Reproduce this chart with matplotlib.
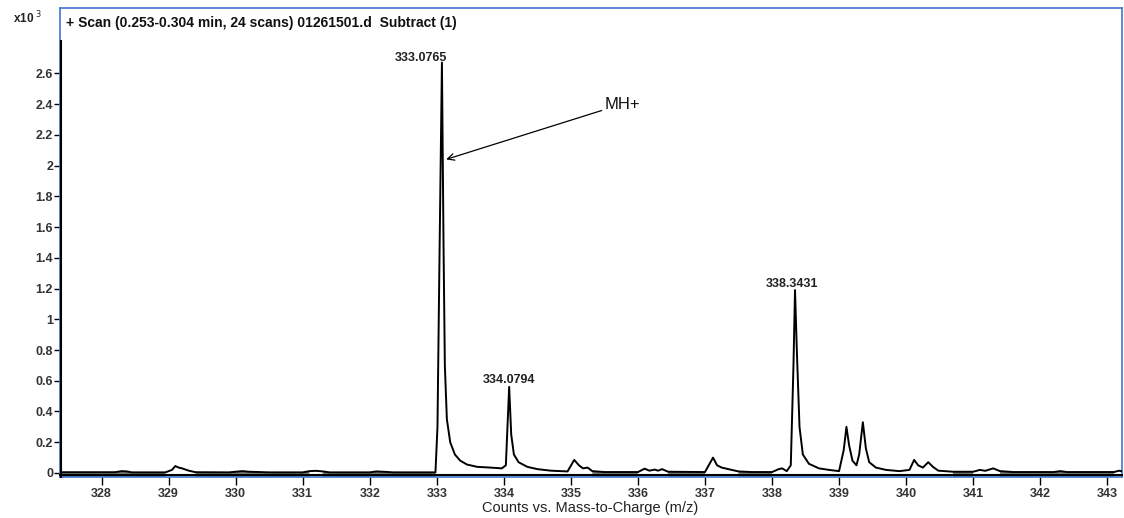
import matplotlib
matplotlib.use("Agg")
import matplotlib.pyplot as plt
import numpy as np

plt.rcParams["font.family"] = ["Liberation Sans", "DejaVu Sans"]

# profile trace (m/z, counts x10^3)
mz = [327.38, 328.20, 328.30, 328.38, 328.45,
      328.95, 329.05, 329.10, 329.15, 329.20, 329.30, 329.40,
      329.90, 330.00, 330.10, 330.20, 330.35, 330.50,
      331.00, 331.10, 331.20, 331.30, 331.40,
      332.00, 332.10, 332.20, 332.35,
      332.98, 333.01, 333.04, 333.0765, 333.10, 333.12, 333.15, 333.20,
      333.27, 333.35, 333.45, 333.60, 333.80, 333.97,
      334.03, 334.0794, 334.11, 334.15, 334.22, 334.35, 334.50, 334.70,
      334.95, 335.05, 335.12, 335.18, 335.25, 335.32, 335.50,
      336.00, 336.10, 336.17, 336.25, 336.30, 336.36, 336.45,
      337.00, 337.12, 337.18, 337.25, 337.35, 337.50, 337.70,
      338.00, 338.10, 338.15, 338.22, 338.28, 338.32, 338.3431, 338.37,
      338.41, 338.46, 338.55, 338.70, 338.85, 339.00,
      339.07, 339.11, 339.15, 339.20, 339.26, 339.30, 339.355, 339.40,
      339.45, 339.55, 339.70, 339.90,
      340.05, 340.12, 340.18, 340.25, 340.33, 340.40, 340.48, 340.70,
      341.00, 341.10, 341.18, 341.30, 341.40, 341.60,
      342.20, 342.30, 342.40, 343.10, 343.18, 343.22]
counts = [0.005, 0.005, 0.012, 0.010, 0.004,
          0.004, 0.020, 0.045, 0.035, 0.030, 0.015, 0.005,
          0.004, 0.008, 0.012, 0.008, 0.006, 0.004,
          0.004, 0.012, 0.014, 0.010, 0.004,
          0.004, 0.010, 0.008, 0.004,
          0.004, 0.300, 1.400, 2.670, 1.500, 0.700, 0.350, 0.200,
          0.120, 0.080, 0.055, 0.040, 0.035, 0.030,
          0.050, 0.560, 0.250, 0.120, 0.070, 0.040, 0.025, 0.015,
          0.010, 0.085, 0.050, 0.030, 0.035, 0.012, 0.006,
          0.006, 0.028, 0.015, 0.022, 0.015, 0.025, 0.008,
          0.006, 0.100, 0.050, 0.035, 0.025, 0.010, 0.006,
          0.006, 0.025, 0.030, 0.012, 0.050, 0.700, 1.190, 0.800,
          0.300, 0.120, 0.060, 0.030, 0.020, 0.012,
          0.150, 0.300, 0.180, 0.080, 0.050, 0.120, 0.330, 0.160,
          0.070, 0.035, 0.020, 0.012,
          0.020, 0.085, 0.050, 0.035, 0.070, 0.040, 0.015, 0.008,
          0.008, 0.020, 0.014, 0.030, 0.012, 0.006,
          0.006, 0.012, 0.006, 0.006, 0.015, 0.010]

peak_labels = ["333.0765", "334.0794", "338.3431"]
label_mz = [332.76, 334.07, 338.30]
label_counts = [2.66, 0.567, 1.19]

x_ticks = list(range(328, 344))
y_ticks = [0, 0.2, 0.4, 0.6, 0.8, 1, 1.2, 1.4, 1.6, 1.8, 2, 2.2, 2.4, 2.6]
y_ticklabels = ["0", "0.2", "0.4", "0.6", "0.8", "1", "1.2", "1.4", "1.6",
                "1.8", "2", "2.2", "2.4", "2.6"]

title = "+ Scan (0.253-0.304 min, 24 scans) 01261501.d  Subtract (1)"
xlabel = "Counts vs. Mass-to-Charge (m/z)"

blue = "#3f78d0"
ylo, yhi = -0.026, 3.025

fig = plt.figure(figsize=(11.24, 5.18), dpi=100)
ax = fig.add_axes([0.0534, 0.0792, 0.9448, 0.9054])

mz = np.array(mz)
counts = np.array(counts)

# grey baseline band where the trace sits on the noise floor
ax.fill_between(mz, ylo, counts, where=counts < 0.013, color="#7a7a7a",
                lw=0, interpolate=True, zorder=1)
ax.plot(mz, counts, color="black", lw=1.4, zorder=3)

ax.set_xlim(327.38, 343.22)
ax.set_ylim(ylo, yhi)

for s in ax.spines.values():
    s.set_color(blue)
    s.set_linewidth(1.2)

# black axis lines inside the blue frame
ax.plot([0.001, 0.001], [0, 0.93], transform=ax.transAxes, color="black",
        lw=1.5, clip_on=False, zorder=4)
ax.plot([0, 1], [0.004, 0.004], transform=ax.transAxes, color="black",
        lw=1.5, clip_on=False, zorder=4)

ax.set_xticks(x_ticks)
ax.set_xticklabels([str(t) for t in x_ticks])
ax.set_yticks(y_ticks)
ax.set_yticklabels(y_ticklabels)
ax.tick_params(axis="both", direction="out", color="black", width=1.0,
               labelsize=9, labelcolor="#333333")
ax.tick_params(axis="x", length=6, pad=2)
ax.tick_params(axis="y", length=4, pad=1)
for lab in ax.get_xticklabels() + ax.get_yticklabels():
    lab.set_fontweight("bold")

for lab, px, py in zip(peak_labels, label_mz, label_counts):
    ax.text(px, py, lab, ha="center", va="bottom",
            fontsize=9, fontweight="bold", color="#222222")

ax.annotate("MH+", xy=(333.14, 2.04), xytext=(335.5, 2.40),
            ha="left", va="center", fontsize=12, color="#111111",
            arrowprops=dict(arrowstyle="->", color="black", lw=0.9,
                            shrinkA=0, shrinkB=0))

ax.text(0.006, 0.982, title, transform=ax.transAxes, ha="left", va="top",
        fontsize=10, fontweight="bold", color="#111111")
fig.text(0.012, 0.965, "x10$^{\\ 3}$", ha="left", va="center", fontsize=8.5,
         fontweight="bold", color="#222222")

fig.text(0.525, 0.02, xlabel, ha="center", va="center", fontsize=10.5,
         color="#222222")

fig.savefig("out.png", dpi=100)
